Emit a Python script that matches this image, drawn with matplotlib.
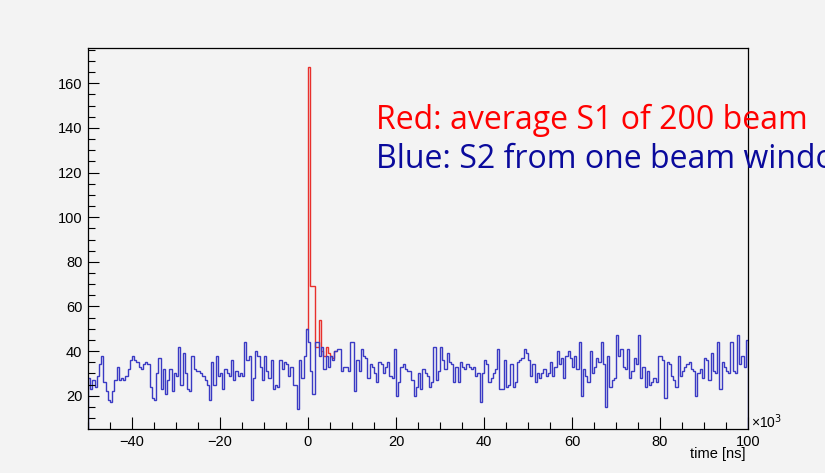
import matplotlib.pyplot as plt
import numpy as np
from matplotlib.ticker import MultipleLocator

# binning of both histograms, in units of 10^3 ns
x_lo, x_hi, n_bins = -50, 100, 300

# blue: S2 from one beam window, bin contents (4 stretches of the axis)
blue_seg1 = [28, 23, 27, 24, 29, 34, 38, 26, 22, 18, 17, 22, 27, 33, 27, 28, 27, 29, 32, 36,
             38, 36, 35, 33, 32, 34, 35, 34, 24, 19, 18, 30, 37, 23, 32, 21, 27, 32, 22, 30,
             29, 42, 25, 39, 30, 23, 22, 38, 32, 31, 31, 30, 29, 27, 25, 18, 35, 25, 38, 29,
             30, 23, 32, 30, 29, 36, 27, 31, 29, 30, 29, 44, 36, 38]
blue_seg2 = [18, 28, 40, 38, 33, 27, 38, 31, 28, 36, 23, 25, 24, 36, 32, 35,
             34, 29, 33, 25, 25, 14, 36, 28, 38, 50, 44, 31, 21, 44, 44, 38, 42, 32, 38, 33,
             38, 36, 40, 41, 41, 31, 33, 33, 31, 44, 44, 22, 36,
             31, 41, 38, 37, 28, 34, 33, 30, 26, 35, 34, 30, 33, 35, 29, 28, 41, 20, 26, 33,
             34, 32, 31]
blue_seg3 = [31, 27, 20, 24, 30, 23, 32, 30, 29, 24, 26, 42, 27, 31, 42, 36, 32, 39, 35, 34,
             26, 33, 26, 35, 33, 32, 34, 33, 32, 33, 29, 30, 17, 30, 36, 34, 26, 28, 30, 32,
             41, 23, 23, 36, 24, 25, 34, 24, 26, 35, 36, 37, 41, 39, 36, 29, 34, 26, 30, 28,
             30, 32, 29, 30, 35, 29, 33, 40, 34, 37, 28, 38, 40]
blue_seg4 = [37, 33, 38, 32, 44, 20, 32, 29, 26, 40, 30, 33, 37, 35, 44, 34, 15, 38, 24, 27,
             28, 47, 38, 41, 33, 32, 41, 28, 31, 37, 34, 47, 28, 33, 24, 31, 25, 26, 28, 26,
             38, 38, 36, 19, 35, 34, 29, 27, 24, 38, 29, 31, 33, 34, 35, 32, 31, 20, 30, 32,
             28, 37, 36, 27, 39, 31, 30, 44, 23, 35, 33, 31, 30, 44, 31, 30, 47, 34, 38, 33,
             45]

# red: average S1 of 200 beam windows; only the part above the blue trace is readable,
# elsewhere the red sits under the blue line
red_start = -0.5
red_peak = [50, 167.4, 69, 69, 42, 42, 54, 40, 38, 42, 39, 38, 37, 40]

edges = np.linspace(x_lo, x_hi, n_bins + 1)
blue = np.array(blue_seg1 + blue_seg2 + blue_seg3 + blue_seg4, dtype=float)
assert len(blue) == n_bins
i0 = int(np.searchsorted(edges, red_start))
red_edges = edges[i0:i0 + len(red_peak) + 1]

bg = '#f3f3f3'
fig = plt.figure(figsize=(8.25, 4.73), dpi=100, facecolor=bg)
ax = fig.add_axes([88 / 825, 44 / 473, 660 / 825, 381 / 473])
ax.set_facecolor(bg)

# red first, blue drawn over it
ax.stairs(red_peak, red_edges, baseline=None, color='#e8302c', lw=1.0)
ax.stairs(blue, edges, color='#3a3ac4', lw=1.0)

ax.set_xlim(x_lo, x_hi)
ax.set_ylim(5.1, 175.8)

# ROOT-like axes: inward ticks on left and bottom only
ax.xaxis.set_major_locator(MultipleLocator(20))
ax.xaxis.set_minor_locator(MultipleLocator(5))
ax.yaxis.set_major_locator(MultipleLocator(20))
ax.yaxis.set_minor_locator(MultipleLocator(5))
ax.tick_params(which='both', direction='in', top=False, right=False, colors='black',
               labelsize=10.5, width=0.8)
ax.tick_params(axis='x', which='major', length=8.5, pad=4)
ax.tick_params(axis='x', which='minor', length=5)
ax.tick_params(axis='y', which='major', length=8, pad=4)
ax.tick_params(axis='y', which='minor', length=5)
for lab in ax.get_xticklabels() + ax.get_yticklabels():
    lab.set_family('Liberation Sans')
for s in ax.spines.values():
    s.set_linewidth(0.9)

fig.text(751 / 825, 1 - 422 / 473, '\u00d710$^3$', fontsize=10, family='Liberation Sans',
         ha='left', va='center')
fig.text(746 / 825, 1 - 454 / 473, 'time [ns]', fontsize=10.5, family='Liberation Sans',
         ha='right', va='center')

# overlaid slide annotations; the second line runs off the right edge as in the original
fig.text(376 / 825, 1 - 129 / 473, 'Red: average S1 of 200 beam', color='#ff0000',
         fontsize=23, family='Open Sans', ha='left', va='baseline')
fig.text(376 / 825, 1 - 168 / 473, 'Blue: S2 from one beam window', color='#0a0a9c',
         fontsize=23, family='Open Sans', ha='left', va='baseline')

fig.savefig('out.png', dpi=100, facecolor=fig.get_facecolor())
